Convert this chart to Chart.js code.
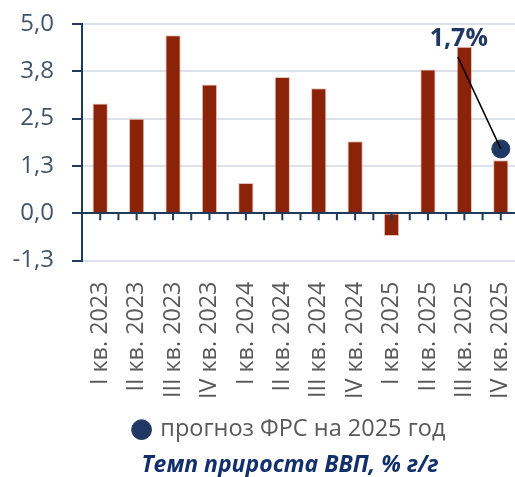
<!DOCTYPE html>
<html>
<head>
<meta charset="utf-8">
<script src="https://cdn.jsdelivr.net/npm/chart.js@4"></script>
<style>
  html, body { margin: 0; padding: 0; background: #fff; overflow: hidden; }
  #wrap { width: 580px; height: 477px; }
</style>
</head>
<body>
<div id="wrap"><canvas id="myChart"></canvas></div>
<script>
// Data
const categories = ['I кв. 2023', 'II кв. 2023', 'III кв. 2023', 'IV кв. 2023',
                    'I кв. 2024', 'II кв. 2024', 'III кв. 2024', 'IV кв. 2024',
                    'I кв. 2025', 'II кв. 2025', 'III кв. 2025', 'IV кв. 2025'];
const gdpGrowth = [2.9, 2.5, 4.7, 3.4, 0.8, 3.6, 3.3, 1.9, -0.6, 3.8, 4.4, 1.4];
const forecast = [null, null, null, null, null, null, null, null, null, null, null, 1.7];
const forecastLabel = '1,7%';
const yTicks = [-1.25, 0, 1.25, 2.5, 3.75, 5];
const yTickLabels = ['-1,3', '0,0', '1,3', '2,5', '3,8', '5,0'];

const navy = '#1F3864';
const axisNavy = '#1E3A5C';

// tick marks on the zero line + annotation for the forecast point
const extras = {
    id: 'extras',
    afterDatasetsDraw(chart) {
        const c = chart.ctx;
        const x = chart.scales.x;
        const y = chart.scales.y;
        const y0 = y.getPixelForValue(0);
        const step = x.getPixelForValue(1) - x.getPixelForValue(0);
        c.save();
        c.strokeStyle = axisNavy;
        c.lineWidth = 2;
        for (let i = 0; i < categories.length; i++) {
            const px = x.getPixelForValue(i);
            [px, px + step / 2].forEach(tx => {
                c.beginPath();
                c.moveTo(tx, y0);
                c.lineTo(tx, y0 + 7);
                c.stroke();
            });
        }
        // annotation
        const meta = chart.getDatasetMeta(1);
        const idx = forecast.findIndex(v => v !== null);
        const pt = meta.data[idx];
        if (pt) {
            const lx = pt.x - 42, ly = pt.y - 110;
            c.strokeStyle = '#000';
            c.lineWidth = 1.5;
            c.beginPath();
            c.moveTo(lx - 1, ly + 18);
            c.lineTo(pt.x, pt.y);
            c.stroke();
            c.fillStyle = navy;
            c.font = 'bold 25px "Open Sans"';
            c.textAlign = 'center';
            c.textBaseline = 'middle';
            c.fillText(forecastLabel, lx, ly);
        }
        c.restore();
    }
};

const ctx = document.getElementById('myChart').getContext('2d');
const myChart = new Chart(ctx, {
    type: 'bar',
    data: {
        labels: categories,
        datasets: [{
            label: 'Темп прироста ВВП',
            data: gdpGrowth,
            backgroundColor: '#8B2308',
            borderColor: 'rgba(225,170,160,0.7)',
            borderWidth: 1,
            categoryPercentage: 1,
            barPercentage: 0.42,
            order: 2
        }, {
            type: 'line',
            label: 'прогноз ФРС на 2025 год',
            data: forecast,
            showLine: false,
            pointRadius: 9,
            pointHoverRadius: 9,
            pointBackgroundColor: navy,
            pointBorderColor: navy,
            order: 1
        }]
    },
    options: {
        responsive: true,
        maintainAspectRatio: false,
        animation: false,
        layout: { padding: { top: 24, left: 0, right: 0, bottom: -2 } },
        plugins: {
            tooltip: { enabled: false },
            legend: {
                position: 'bottom',
                labels: {
                    filter: item => item.datasetIndex === 1,
                    usePointStyle: true,
                    pointStyle: 'circle',
                    boxWidth: 14,
                    boxHeight: 14,
                    color: '#595959',
                    padding: 8,
                    font: { family: '"Open Sans"', size: 23.5 }
                }
            },
            title: {
                display: true,
                position: 'bottom',
                text: 'Темп прироста ВВП, % г/г',
                color: '#12306B',
                padding: { top: 0, bottom: 0 },
                font: { family: '"Open Sans"', size: 23, weight: 'bold', style: 'italic' }
            }
        },
        scales: {
            x: {
                offset: true,
                grid: { display: false, drawTicks: false },
                border: { display: false },
                afterFit: s => { s.paddingLeft = 0; s.paddingRight = 61; s.height -= 10; },
                ticks: {
                    minRotation: 90,
                    maxRotation: 90,
                    autoSkip: false,
                    padding: 21,
                    color: '#595959',
                    font: { family: '"Open Sans"', size: 23.3 }
                }
            },
            y: {
                min: -1.25,
                max: 5,
                afterBuildTicks: s => { s.ticks = yTicks.map(v => ({ value: v })); },
                afterFit: s => { s.width = 82; s.paddingTop = 0; s.paddingBottom = 0; },
                border: { display: true, color: axisNavy, width: 2 },
                grid: {
                    color: c => (c.tick && c.tick.value === 0) ? axisNavy : '#DDE2EA',
                    lineWidth: 2,
                    tickColor: axisNavy,
                    tickLength: 10
                },
                ticks: {
                    padding: 18,
                    color: '#44546A',
                    font: { family: '"Open Sans"', size: 24 },
                    callback: (v, i) => yTickLabels[yTicks.indexOf(v)]
                }
            }
        }
    },
    plugins: [extras]
});
</script>
</body>
</html>
